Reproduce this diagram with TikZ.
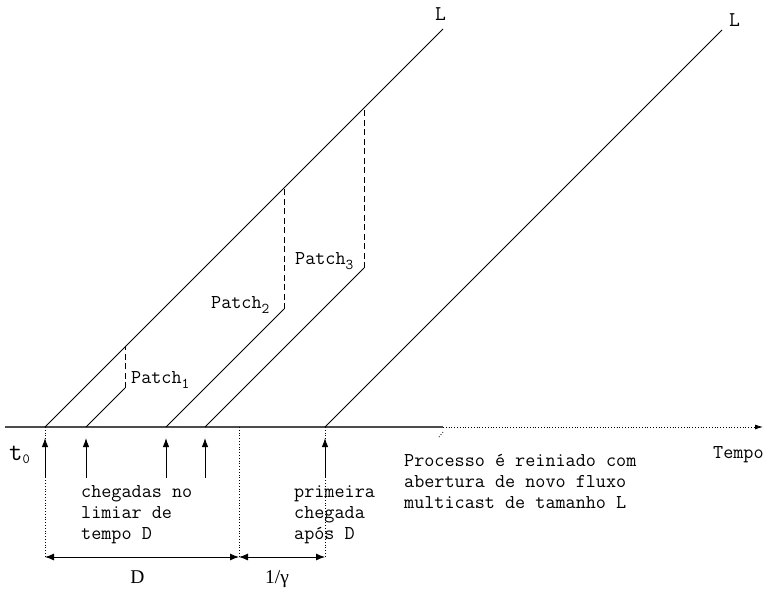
\documentclass[tikz,border=0pt]{standalone}
\usepackage{fontspec}
\setmainfont{Liberation Serif}
\usetikzlibrary{arrows.meta,positioning}
\newcommand\indice[1]{\raisebox{-5pt}{\fontsize{15}{15}\selectfont #1}}

\begin{document}
\begin{tikzpicture}[x=1pt,y=-1pt,
          eixo/.style={line width=1.5pt,black!70},
          fluxo/.style={line width=0.8pt,line join=round},
          patch/.style={line width=0.8pt,dash pattern=on 6pt off 3.5pt},
          guia/.style={line width=0.8pt,dotted},
          chegada/.style={line width=0.9pt,-{Latex[length=9pt,width=6.5pt]},shorten >=11pt},
          cota/.style={line width=0.9pt,{Latex[length=9pt,width=7pt]}-{Latex[length=9pt,width=7pt]}},
          txt/.style={font=\ttfamily\fontsize{19.6}{20.6}\selectfont,align=left,inner sep=0pt},
          rot/.style={font=\fontsize{19.5}{20}\selectfont,inner sep=0pt},
        ]
        \useasboundingbox (0,0) rectangle (764,592);
        % Eixo do tempo
        \coordinate (ini)  at (5,427);
        \coordinate (fimE) at (443,427);
        \coordinate (fim)  at (763,427);
        \draw[eixo] (ini) -- (fimE);
        \draw[guia,-{Latex[length=8pt,width=5pt]}] (fimE) -- (fim);
        \draw[guia] (439,437) -- (443,432);
        \node[txt,anchor=base west] (tempo) at (713,458) {Tempo};

        % Chegadas
        \foreach \n/\x in {0/45,1/86,2/166,3/205,4/325}{
          \coordinate (c\n) at (\x,427);
          \coordinate (b\n) at (\x,478);
        }
        \coordinate (fimD) at (239,427);
        \foreach \n in {0,...,4}{
          \draw[chegada] (b\n) -- (c\n);
        }

        % Fluxos multicast
        \coordinate (L1) at (443,29);
        \coordinate (L2) at (722,30);
        \draw[fluxo] (c0) -- (L1);
        \draw[fluxo] (c4) -- (L2);
        \node[txt,font=\ttfamily\fontsize{21}{21}\selectfont,anchor=base west] (rL1) at (435,20) {L};
        \node[txt,font=\ttfamily\fontsize{21}{21}\selectfont,anchor=base west] (rL2) at (729,26) {L};

        % Patches
        \coordinate (p1) at (125,388); \coordinate (p1t) at (125,347);
        \coordinate (p2) at (284,309); \coordinate (p2t) at (284,188);
        \coordinate (p3) at (364,268); \coordinate (p3t) at (364,108);
        \draw[fluxo] (c1) -- (p1);
        \draw[fluxo] (c2) -- (p2);
        \draw[fluxo] (c3) -- (p3);
        \draw[patch] (p1) -- (p1t);
        \draw[patch] (p2) -- (p2t);
        \draw[patch] (p3) -- (p3t);
        \node[txt,anchor=base west] (rp1) at (131,383) {Patch\indice{1}};
        \node[txt,anchor=base west] (rp2) at (211,308) {Patch\indice{2}};
        \node[txt,anchor=base west] (rp3) at (295,264) {Patch\indice{3}};

        % Cotas
        \coordinate (d0) at (45,557);
        \coordinate (dD) at (239,557);
        \coordinate (d4) at (325,557);
        \draw[guia] (c0) -- (d0);
        \draw[guia] (fimD) -- (dD);
        \draw[guia] (c4) -- (d4);
        \draw[cota] (d0) -- (dD);
        \draw[cota] (dD) -- (d4);
        \node[rot,anchor=base] (rD) at (137.5,583) {D};
        \node[rot,anchor=base] (rg) at (277,583) {1/γ};

        % Textos
        \node[txt,anchor=base west,font=\ttfamily\fontsize{26}{26}\selectfont] (t0) at (9,460)
             {t\raisebox{-3pt}{\fontsize{14}{14}\selectfont 0}};
        \node[txt,anchor=base west] (chD) at (81,539) {chegadas no\\limiar de\\tempo D};
        \node[txt,anchor=base west] (prim) at (294,539) {primeira\\chegada\\após D};
        \node[txt,anchor=base west] (proc) at (404,508)
             {Processo é reiniado com\\abertura de novo fluxo\\multicast de tamanho L};
      \end{tikzpicture}
\end{document}
